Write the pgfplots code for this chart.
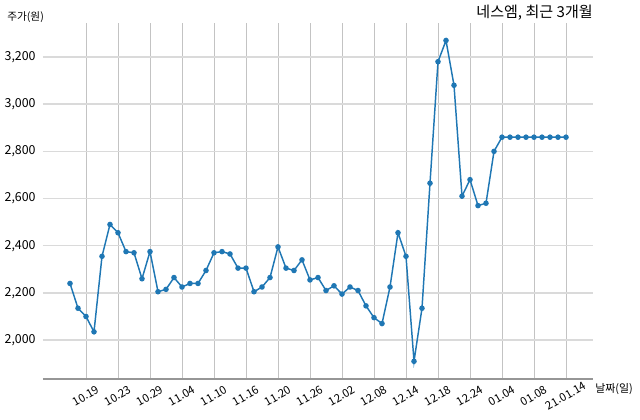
\documentclass[border=0pt]{standalone}
\usepackage{fontspec}
\setmainfont{Noto Sans CJK KR}
\usepackage{pgfplots}
\pgfplotsset{compat=1.18}
\definecolor{line}{RGB}{31,119,180}
\definecolor{vgrid}{RGB}{195,195,195}
\definecolor{hgrid}{RGB}{218,218,218}
\definecolor{axisgray}{RGB}{150,150,150}

\pgfplotstableread{
idx price
0 2240
1 2135
2 2100
3 2035
4 2355
5 2490
6 2455
7 2375
8 2370
9 2260
10 2375
11 2205
12 2215
13 2265
14 2225
15 2240
16 2240
17 2295
18 2370
19 2375
20 2365
21 2305
22 2305
23 2205
24 2225
25 2265
26 2395
27 2305
28 2295
29 2340
30 2255
31 2265
32 2210
33 2230
34 2195
35 2225
36 2210
37 2145
38 2095
39 2070
40 2225
41 2455
42 2355
43 1910
44 2135
45 2665
46 3180
47 3270
48 3080
49 2610
50 2680
51 2570
52 2580
53 2800
54 2860
55 2860
56 2860
57 2860
58 2860
59 2860
60 2860
61 2860
62 2860
}\prices

\begin{document}
\begin{tikzpicture}
\useasboundingbox (0,0) rectangle (480pt,314.25pt);
\begin{axis}[
    at={(32.25pt,30pt)}, anchor=south west,
    scale only axis,
    width=412.5pt, height=267pt,
    xmin=-3.375, xmax=65.375,
    ymin=1835, ymax=3344,
    axis x line*=bottom, axis y line*=left,
    x axis line style={draw=axisgray, line width=0.8pt},
    y axis line style={draw=none},
    major tick length=0pt,
    xtick={2,6,...,62},
    xticklabels={10.19,10.23,10.29,11.04,11.10,11.16,11.20,11.26,12.02,12.08,12.14,12.18,12.24,01.04,01.08,21.01.14},
    ytick={2000,2200,...,3200},
    /pgf/number format/.cd, 1000 sep={,}, assume math mode=true,
    /pgfplots/.cd,
    xmajorgrids, ymajorgrids,
    x grid style={vgrid, line width=0.6pt},
    y grid style={hgrid, line width=1.0pt},
    x tick label style={font=\fontsize{8.5}{10}\selectfont, anchor=center, yshift=-12.5pt, rotate=30},
    y tick label style={font=\fontsize{9.3}{11}\selectfont, anchor=east, xshift=-2pt},
    every axis title shift=0pt,
    title={네스엠, 최근 3개월},
    title style={at={(axis description cs:1,1)}, anchor=east, yshift=7.5pt, inner sep=0pt, font=\fontsize{11.3}{13}\selectfont},
    ylabel={주가(원)},
    every axis y label/.style={at={(axis description cs:0,1)}, anchor=west, xshift=-27pt, yshift=4.5pt, inner sep=0pt, font=\fontsize{8}{9}\selectfont},
    xlabel={날짜(일)},
    every axis x label/.style={at={(axis description cs:1,0)}, anchor=west, xshift=1.5pt, yshift=-7.5pt, inner sep=0pt, font=\fontsize{8.2}{9}\selectfont},
]
\addplot[line, line width=1.1pt, mark=*, mark size=1.5pt, mark options={line, fill=line}] table[x=idx, y=price] {\prices};
\end{axis}
\end{tikzpicture}
\end{document}
